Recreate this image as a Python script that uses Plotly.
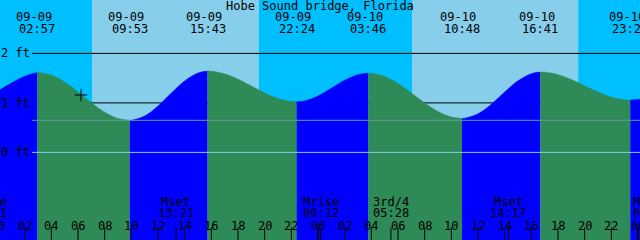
import plotly.graph_objects as go

# ---------------- data ----------------
title = "Hobe Sound bridge, Florida"

# hourly tide readings (hours since 09-09 00:00, feet)
tide_hours = list(range(0, 50))
tide_ft = [1.24, 1.40, 1.54, 1.616, 1.562, 1.42, 1.222, 1.004, 0.812, 0.684,
           0.647, 0.734, 0.936, 1.198, 1.444, 1.605, 1.639, 1.587, 1.480, 1.340,
           1.199, 1.087, 1.028, 1.040, 1.140, 1.297, 1.459, 1.571, 1.598, 1.532,
           1.391, 1.201, 1.000, 0.827, 0.716, 0.690, 0.780, 0.974, 1.219, 1.446,
           1.591, 1.619, 1.571, 1.473, 1.347, 1.219, 1.117, 1.063, 1.07, 1.11]

# high / low tide events
event_hours = [2.95, 9.883, 15.717, 22.4, 27.767, 34.8, 40.683, 47.43]
event_ft = [1.616, 0.646, 1.642, 1.022, 1.600, 0.687, 1.622, 1.057]
event_dates = ["09-09", "09-09", "09-09", "09-09", "09-10", "09-10", "09-10", "09-10"]
event_times = ["02:57", "09:53", "15:43", "22:24", "03:46", "10:48", "16:41", "23:26"]

# daylight
sunrise_hours = [7.05, 31.05]
sunset_hours = [19.57, 43.52]

# moon events
moon_hours = [-0.65, 13.35, 24.2, 29.467, 38.283, 48.983]
moon_names = ["Mrise", "Mset", "Mrise", "3rd/4", "Mset", "Mrise"]
moon_times = ["23:21", "13:21", "00:12", "05:28", "14:17", "00:59"]

# hour ticks
hour_ticks = list(range(0, 50, 2))
hour_labels = ["00", "02", "04", "06", "08", "10", "12", "14", "16", "18", "20", "22",
               "00", "02", "04", "06", "08", "10", "12", "14", "16", "18", "20", "22", "00"]
midnight_ticks = [0, 24, 48]

depth_lines = [0, 1, 2]
depth_labels = ["0 ft", "1 ft", "2 ft"]
msl_ft = 0.648

now_hour = 6.225
now_ft = 1.16

# ---------------- style ----------------
NIGHT = "#00BFFF"
DAY = "#87CEEB"
FLOOD = "#0000FF"
EBB = "#2E8B57"
FONT = "DejaVu Sans Mono"
XR = [0.15, 48.15]
YR = [-1.770, 3.079]
W, H = 640, 240


def paper_x(h):
    # position of an hour on the time axis as a paper fraction (labels may fall off the axis)
    return (h - XR[0]) / (XR[1] - XR[0])


fig = go.Figure()

# ---- water segments split at high/low events ----
pts = sorted(list(zip(tide_hours, tide_ft)) + list(zip(event_hours, event_ft)))
bounds = [pts[0][0]] + event_hours + [pts[-1][0]]
for i in range(len(bounds) - 1):
    a, b = bounds[i], bounds[i + 1]
    seg = [p for p in pts if a <= p[0] <= b]
    if i == 0 or i >= len(event_hours):
        rising = True
    else:
        rising = event_ft[i] > event_ft[i - 1]
    color = FLOOD if rising else EBB
    xs = [p[0] for p in seg]
    ys = [p[1] for p in seg]
    fig.add_trace(go.Scatter(x=[xs[0], xs[-1]], y=[YR[0] - 1, YR[0] - 1], mode="lines",
                             line=dict(width=0), hoverinfo="skip"))
    fig.add_trace(go.Scatter(x=xs, y=ys, mode="lines", fill="tonexty", fillcolor=color,
                             line=dict(width=0.5, color=color, shape="spline", smoothing=1.0),
                             hoverinfo="skip"))

# ---- ticks at bottom ----
fig.add_trace(go.Scatter(x=hour_ticks, y=[YR[0]] * len(hour_ticks), mode="markers",
                         marker=dict(symbol="line-ns", size=18, line=dict(width=1, color="black")),
                         hoverinfo="skip"))
fig.add_trace(go.Scatter(x=midnight_ticks, y=[YR[0]] * len(midnight_ticks), mode="markers",
                         marker=dict(symbol="line-ns", size=18, line=dict(width=2, color="black")),
                         hoverinfo="skip"))
fig.add_trace(go.Scatter(x=moon_hours, y=[YR[0]] * len(moon_hours), mode="markers",
                         marker=dict(symbol="line-ns", size=18, line=dict(width=1, color="black")),
                         hoverinfo="skip"))

# ---- now marker ----
fig.add_trace(go.Scatter(x=[now_hour], y=[now_ft], mode="markers",
                         marker=dict(symbol="cross-thin", size=9, line=dict(width=1, color="black")),
                         hoverinfo="skip"))

shapes = []
for sr, ss in zip(sunrise_hours, sunset_hours):
    shapes.append(dict(type="rect", xref="x", yref="paper", x0=sr, x1=ss, y0=0, y1=1,
                       fillcolor=DAY, line=dict(width=0), layer="below"))
for d in depth_lines:
    if d == 0:
        continue
    shapes.append(dict(type="line", xref="paper", yref="y", x0=32 / W, x1=1, y0=d, y1=d,
                       line=dict(color="black", width=1), layer="below"))
shapes.append(dict(type="line", xref="paper", yref="y", x0=32 / W, x1=1, y0=msl_ft, y1=msl_ft,
                   line=dict(color="#5FA08C", width=1), layer="above"))
shapes.append(dict(type="line", xref="paper", yref="y", x0=32 / W, x1=1, y0=0, y1=0,
                   line=dict(color=DAY, width=1), layer="above"))

ann = []
f = dict(family=FONT, size=12, color="black")
ann.append(dict(text=title, xref="paper", yref="paper", x=0.5, y=1 - 6 / H,
                xanchor="center", yanchor="middle", showarrow=False, font=f))
for h, d, t in zip(event_hours, event_dates, event_times):
    ann.append(dict(text=d, xref="paper", yref="paper", x=paper_x(h), y=1 - 17 / H, xshift=-3.5,
                    xanchor="center", yanchor="middle", showarrow=False, font=f))
    ann.append(dict(text=t, xref="paper", yref="paper", x=paper_x(h), y=1 - 29 / H,
                    xanchor="center", yanchor="middle", showarrow=False, font=f))
for d, lab in zip(depth_lines, depth_labels):
    ann.append(dict(text=lab, xref="paper", yref="y", x=0, y=d, xshift=-1,
                    xanchor="left", yanchor="middle", showarrow=False, font=f))
for h, lab in zip(hour_ticks, hour_labels):
    ann.append(dict(text=lab, xref="paper", yref="paper", x=paper_x(h), y=1 - 226 / H,
                    xanchor="center", yanchor="middle", showarrow=False, font=f))
for h, n, t in zip(moon_hours, moon_names, moon_times):
    ann.append(dict(text=n, xref="paper", yref="paper", x=paper_x(h), y=1 - 201.5 / H,
                    xanchor="center", yanchor="middle", showarrow=False, font=f))
    ann.append(dict(text=t, xref="paper", yref="paper", x=paper_x(h), y=1 - 213 / H,
                    xanchor="center", yanchor="middle", showarrow=False, font=f))

fig.update_layout(
    width=W, height=H, margin=dict(l=0, r=0, t=0, b=0),
    paper_bgcolor=NIGHT, plot_bgcolor=NIGHT, showlegend=False,
    xaxis=dict(range=XR, visible=False, fixedrange=True),
    yaxis=dict(range=YR, visible=False, fixedrange=True),
    shapes=shapes, annotations=ann,
)
fig.write_html("out.html", config=dict(displayModeBar=False))
